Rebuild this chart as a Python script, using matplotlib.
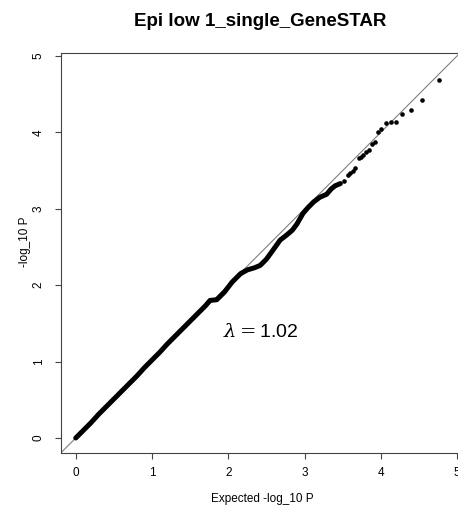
import matplotlib
matplotlib.use("Agg")
import matplotlib.pyplot as plt

plt.rc('font', family=['Liberation Sans', 'DejaVu Sans'], size=8.5)
plt.rc('mathtext', fontset='dejavuserif')

# dense body of the QQ cloud (expected vs observed -log10 P)
exp_body = [0.00, 0.10, 0.20, 0.30, 0.40, 0.50, 0.60, 0.70, 0.80, 0.90,
            1.00, 1.10, 1.20, 1.30, 1.40, 1.50, 1.60, 1.70, 1.76, 1.85,
            1.95, 2.05, 2.16, 2.25, 2.35, 2.42, 2.50, 2.58, 2.68, 2.77,
            2.84, 2.90, 2.98, 3.05, 3.12, 3.20, 3.29, 3.35, 3.40, 3.47]
obs_body = [0.00, 0.10, 0.20, 0.31, 0.41, 0.51, 0.61, 0.71, 0.81, 0.92,
            1.02, 1.12, 1.23, 1.33, 1.43, 1.53, 1.63, 1.73, 1.80, 1.81,
            1.91, 2.04, 2.15, 2.20, 2.23, 2.26, 2.34, 2.45, 2.59, 2.66,
            2.72, 2.80, 2.94, 3.02, 3.09, 3.15, 3.19, 3.26, 3.30, 3.33]

# sparse upper tail
exp_tail = [3.52, 3.57, 3.60, 3.63, 3.66, 3.71, 3.74, 3.77, 3.81, 3.84,
            3.88, 3.92, 3.96, 4.00, 4.07, 4.13, 4.20, 4.28, 4.40, 4.54, 4.76]
obs_tail = [3.37, 3.44, 3.47, 3.50, 3.53, 3.66, 3.68, 3.70, 3.74, 3.77,
            3.85, 3.87, 4.01, 4.04, 4.12, 4.14, 4.13, 4.24, 4.29, 4.42, 4.69]

lam = 1.02
xticks = [0, 1, 2, 3, 4, 5]
yticks = [0, 1, 2, 3, 4, 5]

W, H = 458, 518
fig = plt.figure(figsize=(W / 100, H / 100), dpi=100)
ax = fig.add_axes([60.5 / W, (H - 452.5) / H, 411.8 / W, (452.5 - 53.3) / H])
ax.set_xlim(-0.2, 5.2)
ax.set_ylim(-0.19, 5.035)

# y = x reference
ax.plot([-1, 6], [-1, 6], color='#808080', lw=0.8, zorder=1)

ax.plot(exp_body, obs_body, color='black', lw=3.6, solid_capstyle='round',
        solid_joinstyle='round', zorder=2)
ax.plot(exp_tail, obs_tail, 'o', color='black', ms=3.3, mew=0, zorder=3)

ax.text(2.43, 1.39, r'$\lambda = $' + '%.2f' % lam, fontsize=14, ha='center', va='center')

for s in ax.spines.values():
    s.set_color('#444444')
    s.set_linewidth(0.8)

ax.set_xticks(xticks)
ax.set_yticks(yticks)
ax.tick_params(direction='out', length=4.3, width=0.8, color='#444444', labelsize=8.5)
ax.tick_params(axis='x', pad=6)
ax.tick_params(axis='y', pad=7)
for lab in ax.get_yticklabels():
    lab.set_rotation(90)
    lab.set_va('center')

fig.text(25 / W, 1 - 242 / H, '-log_10 P', rotation=90, ha='center', va='center', fontsize=8.5)
fig.text(262 / W, 1 - 499 / H, 'Expected -log_10 P', ha='center', va='center', fontsize=8.5)
fig.text(260 / W, 1 - 22 / H, 'Epi low 1_single_GeneSTAR', ha='center', va='center',
         fontsize=13.5, fontweight='bold')

fig.savefig('out.png', dpi=100)
